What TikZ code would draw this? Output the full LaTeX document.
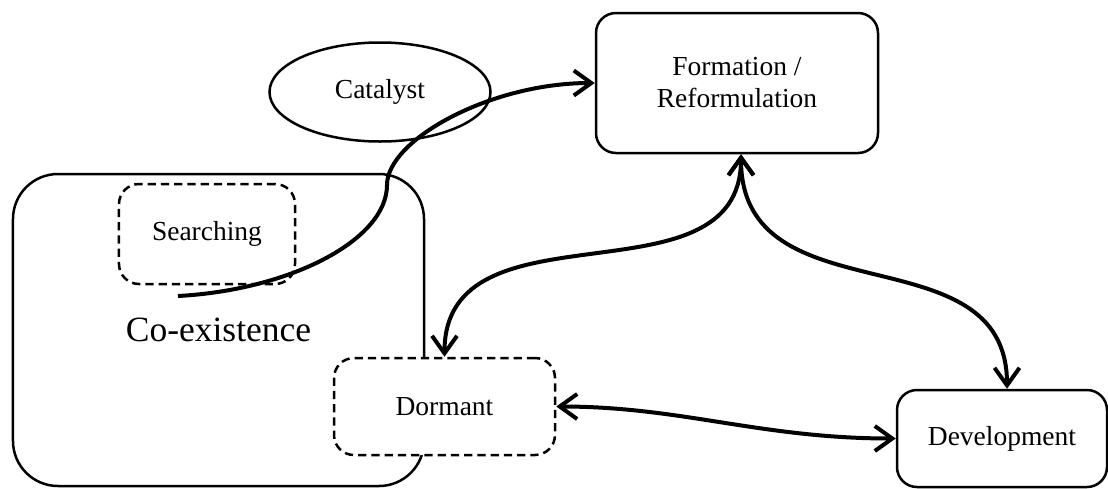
\documentclass[tikz,border=0pt]{standalone}
\usepackage{fontspec}
\setmainfont{Liberation Serif}
\usetikzlibrary{arrows.meta,shapes.geometric}

\begin{document}
\begin{tikzpicture}[x=0.4pt,y=-0.4pt,
  font=\fontsize{11}{12.8}\selectfont,
  >={Straight Barb[length=7pt,width=10pt]},
  stage/.style={draw, line width=1pt, rounded corners=8pt, align=center, inner sep=0pt},
  phase/.style={stage, dash pattern=on 3.3pt off 2pt},
  oval/.style={draw, line width=1pt, ellipse, inner sep=0pt, minimum width=88.4pt, minimum height=39.6pt},
  link/.style={line width=1.6pt}]
\useasboundingbox (0,0) rectangle (1108,488);

\node [stage, rounded corners=18pt, minimum width=164.4pt, minimum height=124.8pt,
       font=\fontsize{14.2}{16}\selectfont] (coexist) at (218.5,330) {Co-existence};
\node [phase, minimum width=70.4pt, minimum height=40pt] (searching) at (207,234) {Searching};
\node [oval] (catalyst) at (380,92) {Catalyst};
\node [stage, minimum width=112.8pt, minimum height=56pt] (formation) at (737,83) {Formation /\\Reformulation};
\node [phase, fill=white, minimum width=88.4pt, minimum height=38.8pt] (dormant) at (444.5,406.5) {Dormant};
\node [stage, minimum width=84pt, minimum height=38.8pt] (development) at (1002,438.5) {Development};
\coordinate (leave) at (178,296);

\draw [link, ->] (leave) .. controls (290,290) and (387,240) .. (387,185)
                         .. controls (387,140) and (490,83) .. (formation.west);
\draw [link, <->] (dormant.north) .. controls +(0,-160) and +(0,155) .. ([xshift=1.6pt]formation.south);
\draw [link, <->] ([xshift=1.6pt]formation.south) .. controls +(0,167) and +(0,-160) .. ([xshift=2pt]development.north);
\draw [link, <->] (dormant.east) .. controls +(125,0) and +(-135,0) .. (development.west);
\end{tikzpicture}
\end{document}
